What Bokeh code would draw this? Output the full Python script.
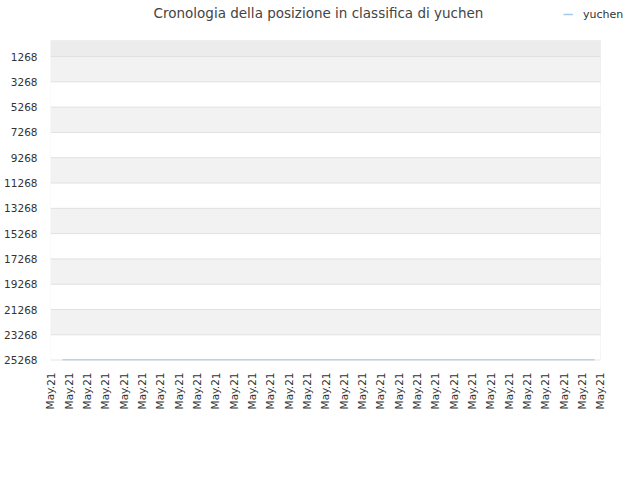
from bokeh.plotting import figure
from bokeh.models import Range1d, FixedTicker, BoxAnnotation, Label, ColumnDataSource
from bokeh.embed import file_html
from bokeh.resources import INLINE

# dati
TITLE = 'Cronologia della posizione in classifica di yuchen'
PLAYER = 'yuchen'
x_tick_labels = ['May.21'] * 31
y_ticks = [1268, 3268, 5268, 7268, 9268, 11268, 13268, 15268, 17268, 19268, 21268, 23268, 25268]
day_pos = [0.65, 5.0, 10.0, 15.0, 20.0, 25.0, 29.68]
rank = [25268, 25268, 25268, 25268, 25268, 25268, 25268]

FONT = 'DejaVu Sans'
LINE_COLOR = '#a6c8ea'

# area del grafico (px) e riquadro esteso che contiene anche titolo e legenda
PLOT_W, PLOT_H = 550, 320
FRAME_W, FRAME_H = 590, 360
X_MAX = len(x_tick_labels) - 1
Y_MAX = 25300

p = figure(width=640, height=464, output_backend="svg", toolbar_location=None,
           x_range=Range1d(0, X_MAX * FRAME_W / PLOT_W),
           y_range=Range1d(Y_MAX, -Y_MAX * (FRAME_H - PLOT_H) / PLOT_H),
           min_border_left=50, min_border_right=0, min_border_top=0, min_border_bottom=104)
p.outline_line_color = None
p.xgrid.grid_line_color = None
p.ygrid.grid_line_color = None

# fasce alternate
p.add_layout(BoxAnnotation(left=0, right=X_MAX, bottom=0, top=y_ticks[0], fill_color='#ececec',
                           fill_alpha=1, line_alpha=0, level='underlay'))
for lo, hi in zip(y_ticks[0::2], y_ticks[1::2]):
    p.add_layout(BoxAnnotation(left=0, right=X_MAX, bottom=lo, top=hi, fill_color='#f2f2f2',
                               fill_alpha=1, line_alpha=0, level='underlay'))

grid = ColumnDataSource(data=dict(y=y_ticks, x0=[0] * len(y_ticks), x1=[X_MAX] * len(y_ticks)))
p.segment(x0='x0', x1='x1', y0='y', y1='y', source=grid, line_color='#e0e0e0', line_width=1)
p.add_layout(BoxAnnotation(left=0, right=X_MAX, bottom=0, top=Y_MAX, fill_alpha=0,
                           line_color='#dddddd', line_width=1))

p.line(day_pos, rank, line_color=LINE_COLOR, line_width=1.5, legend_label=PLAYER)

p.xaxis.ticker = FixedTicker(ticks=list(range(len(x_tick_labels))))
p.xaxis.major_label_overrides = {i: t for i, t in enumerate(x_tick_labels)}
p.xaxis.major_label_orientation = 3.14159 / 2
p.yaxis.ticker = FixedTicker(ticks=y_ticks)
for ax in (p.xaxis, p.yaxis):
    ax.axis_line_color = None
    ax.major_tick_line_color = None
    ax.minor_tick_line_color = None
    ax.major_label_text_font = FONT
    ax.major_label_text_font_size = '10.5px'
    ax.major_label_text_color = '#333333'
p.yaxis.major_label_standoff = 7
p.xaxis.major_label_standoff = 6

p.add_layout(Label(x=268, y=348, x_units='screen', y_units='screen', text=TITLE,
                   text_align='center', text_baseline='middle', text_font=FONT,
                   text_font_size='13.5px', text_color='#444444'))

p.legend.location = (511, 336)
p.legend.border_line_alpha = 0
p.legend.background_fill_alpha = 0
p.legend.glyph_width = 10
p.legend.glyph_height = 16
p.legend.label_standoff = 10
p.legend.padding = 2
p.legend.margin = 0
p.legend.label_text_font = FONT
p.legend.label_text_font_size = '11px'
p.legend.label_text_color = '#333333'

open("out.html", "w").write(file_html(p, INLINE))
